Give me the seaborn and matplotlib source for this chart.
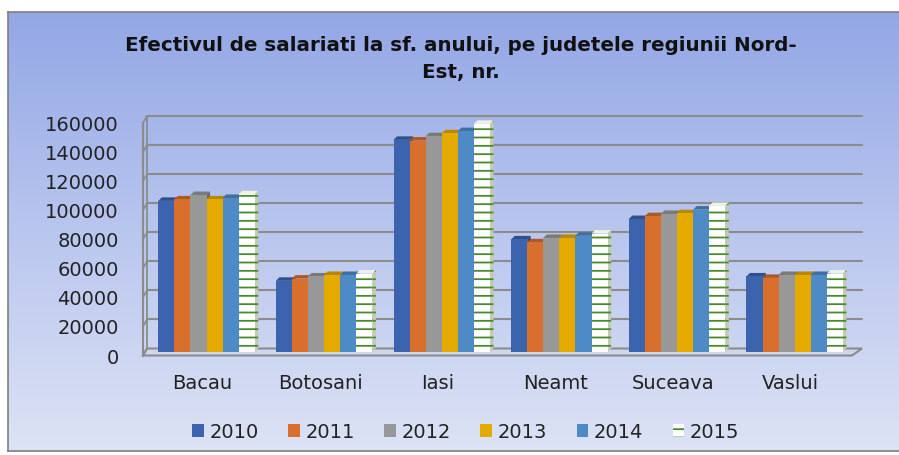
"""Efectivul de salariati, judetele regiunii Nord-Est - clustered pseudo-3D bars."""

import matplotlib

matplotlib.use("Agg")

import matplotlib.pyplot as plt
import numpy as np
import pandas as pd
import seaborn as sns
from matplotlib.colors import LinearSegmentedColormap, to_rgb
from matplotlib.patches import Patch, Polygon
from matplotlib.transforms import ScaledTranslation

counties = ["Bacau", "Botosani", "Iasi", "Neamt", "Suceava", "Vaslui"]
years = ["2010", "2011", "2012", "2013", "2014", "2015"]

v2010 = [104000, 49000, 146000, 77500, 91500, 52000]
v2011 = [105000, 50500, 145500, 75500, 93500, 51000]
v2012 = [108000, 52000, 148500, 78500, 95000, 53000]
v2013 = [105000, 53000, 150500, 78500, 95500, 53000]
v2014 = [106000, 53000, 152000, 80000, 98000, 53000]
v2015 = [108500, 54000, 157000, 81500, 100500, 54000]

yticks = [0, 20000, 40000, 60000, 80000, 100000, 120000, 140000, 160000]
title = "Efectivul de salariati la sf. anului, pe judetele regiunii Nord-\nEst, nr."

colors = ["#3C63AE", "#D86F2C", "#989898", "#E5AA00", "#4E8BC6", "#FFFFFF"]
stripe_green = "#4A8A2C"
grid_gray = "#8C8C8C"

df = pd.DataFrame(
    {
        "county": np.repeat(counties, len(years)),
        "year": years * len(counties),
        "value": np.array([v2010, v2011, v2012, v2013, v2014, v2015]).T.ravel(),
    }
)

W, H = 899, 455
plt.rcParams["hatch.linewidth"] = 1.3
fig = plt.figure(figsize=(W / 100, H / 100), dpi=100)
fig.patch.set_facecolor("white")

# gradient chart area with thin gray border
bg = fig.add_axes([8 / W, 4 / H, 1.0, (451 - 12) / H], zorder=0)
grad = LinearSegmentedColormap.from_list("bg", ["#93A7E6", "#B9C6EE", "#DDE3F5"])
bg.imshow(np.linspace(0, 1, 256).reshape(-1, 1), aspect="auto", cmap=grad, extent=[0, 1, 0, 1])
bg.set_xticks([])
bg.set_yticks([])
for s in bg.spines.values():
    s.set_color("#7F7F7F")
    s.set_linewidth(1.2)

sns.set_style("white")
plt.rcParams["font.family"] = ["DejaVu Sans"]

ax_l, ax_b = 145 / W, 1 - 352 / H
ax_w, ax_h = (857 - 145) / W, (352 - 119.5) / H
ax = fig.add_axes([ax_l, ax_b, ax_w, ax_h], zorder=1)
ax.patch.set_alpha(0)

sns.barplot(
    data=df, x="county", y="value", hue="year", hue_order=years,
    palette=colors, width=0.82, saturation=1, ax=ax, legend=False,
    linewidth=0, zorder=3,
)
xlim = (-0.523, 5.53)
ax.set_xlim(*xlim)
ax.set_ylim(0, 160000)

# data units per pixel
px_x = (xlim[1] - xlim[0]) / (ax_w * W)
px_y = 160000 / (ax_h * H)


def shade(c, f):
    r, g, b = to_rgb(c)
    return (r * f, g * f, b * f)


# 2015 bars striped
for p in ax.containers[5].patches:
    p.set_facecolor("white")
    p.set_edgecolor(stripe_green)
    p.set_hatch("--")
    p.set_linewidth(0)

# top and right faces of each bar
ddx, ddy = 3.5 * px_x, 3.5 * px_y
for i, cont in enumerate(ax.containers):
    for p in cont.patches:
        x0, w, h = p.get_x(), p.get_width(), p.get_height()
        top_c = "#EEF2E6" if i == 5 else shade(colors[i], 0.8)
        side_c = "#C3CBB3" if i == 5 else shade(colors[i], 0.7)
        ax.add_patch(Polygon([(x0, h), (x0 + w, h), (x0 + w + ddx, h + ddy), (x0 + ddx, h + ddy)],
                             closed=True, facecolor=top_c, edgecolor="none", zorder=2, clip_on=False))
        side = Polygon([(x0 + w, 0), (x0 + w + ddx, ddy), (x0 + w + ddx, h + ddy), (x0 + w, h)],
                       closed=True, facecolor=side_c, edgecolor="none", zorder=2, clip_on=False)
        if i == 5:
            side.set_hatch("--")
            side.set_edgecolor(stripe_green)
            side.set_linewidth(0)
        ax.add_patch(side)

# back wall, left wall and floor
bl, br = xlim[0] + 2 * px_x, xlim[1] + 5 * px_x
fl, fr = xlim[0] - 2 * px_x, xlim[1] - 5 * px_x
by, fy = 3.5 * px_y, -3.5 * px_y
ax.add_patch(Polygon([(fl, fy), (fr, fy), (br, by), (bl, by)], closed=True,
                     facecolor="#D0D6EC", edgecolor=grid_gray, lw=1.5, zorder=1, clip_on=False))
for t in yticks[1:]:
    ax.plot([bl, br], [t + by, t + by], color=grid_gray, lw=1.5, zorder=1, clip_on=False)
for t in yticks:
    ax.plot([fl, bl], [t + fy, t + by], color=grid_gray, lw=1.3, zorder=1, clip_on=False)
ax.plot([fl, fl], [fy, yticks[-1] + fy], color=grid_gray, lw=1.5, zorder=1, clip_on=False)
ax.plot([bl, bl], [by, yticks[-1] + by], color=grid_gray, lw=1.3, zorder=1, clip_on=False)

ax.set_yticks(yticks)
ax.set_yticklabels([str(t) for t in yticks])
ax.set_xlabel("")
ax.set_ylabel("")
ax.tick_params(axis="y", length=0, pad=19, labelsize=14, labelcolor="#222222")
ax.tick_params(axis="x", length=0, pad=16, labelsize=14, labelcolor="#222222")
for lab in ax.get_yticklabels():
    lab.set_transform(lab.get_transform() + ScaledTranslation(0, -4 / 100, fig.dpi_scale_trans))
for lab in ax.get_xticklabels():
    lab.set_transform(lab.get_transform() + ScaledTranslation(-4 / 100, 0, fig.dpi_scale_trans))
sns.despine(ax=ax, left=True, bottom=True)
ax.grid(False)

fig.text(461 / W, 1 - 59 / H, title, ha="center", va="center", multialignment="center",
         fontsize=14.3, fontweight="bold", color="#111111", linespacing=1.5)

handles = []
for i, y in enumerate(years):
    if i == 5:
        handles.append(Patch(facecolor="white", edgecolor=stripe_green, hatch="--", linewidth=0, label=y))
    else:
        handles.append(Patch(facecolor=colors[i], edgecolor="none", label=y))
fig.legend(handles=handles, loc="center", bbox_to_anchor=(466 / W, 1 - 432 / H), ncol=6,
           frameon=False, fontsize=14, handlelength=0.6, handleheight=0.6,
           handletextpad=0.3, columnspacing=1.5, labelcolor="#222222")

fig.savefig("out.png", dpi=100)
